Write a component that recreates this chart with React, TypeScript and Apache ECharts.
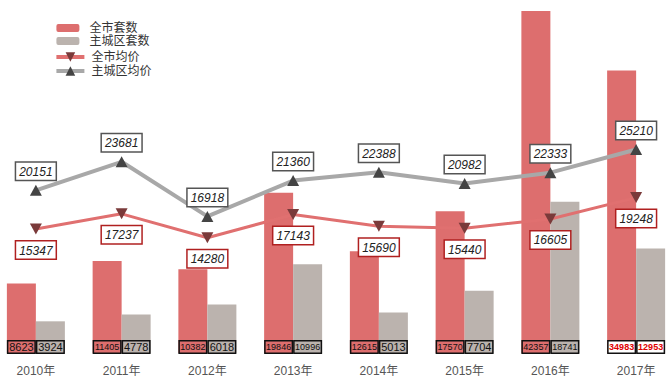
import React, { useEffect, useRef } from "react";
import * as echarts from "echarts";

const categories = ["2010年", "2011年", "2012年", "2013年", "2014年", "2015年", "2016年", "2017年"];
const cityCount = [8623, 11405, 10382, 19846, 12615, 17570, 42357, 34983];
const mainCount = [3924, 4778, 6018, 10996, 5013, 7704, 18741, 12953];
const cityPrice = [15347, 17237, 14280, 17143, 15690, 15440, 16605, 19248];
const mainPrice = [20151, 23681, 16918, 21360, 22388, 20982, 22333, 25210];
const highlightIndex = 7;

const FONT = '"Liberation Sans", Arial, "Noto Sans CJK SC", sans-serif';
const RED = "#dd6e6e";
const GRAY = "#bbb3ae";
const SHIFT = 7.4;
const INNER_W = 686.3;

function barData(values: number[], bg: string) {
  return values.map((v, i) => {
    const hi = i === highlightIndex;
    const digits = String(v).length;
    return {
      value: v,
      label: {
        fontSize: digits >= 5 ? 9 : 11,
        color: hi ? "#e00000" : "#111",
        backgroundColor: hi ? "#ffffff" : bg,
        fontWeight: hi ? "bold" : "normal",
      },
    };
  });
}

export default function App() {
  const ref = useRef<HTMLDivElement>(null);
  useEffect(() => {
    if (!ref.current) return;
    const chart = echarts.init(ref.current, undefined, { renderer: "svg" });
    const barLabel = {
      show: true,
      position: "insideBottom",
      distance: 6,
      fontFamily: FONT,
      borderColor: "#111",
      borderWidth: 1.5,
      width: 26,
      height: 11,
      lineHeight: 11,
      align: "center",
      verticalAlign: "middle",
      padding: [0, 0],
    };
    chart.setOption({
      animation: false,
      textStyle: { fontFamily: FONT },
      grid: { left: 0, right: 0, top: 11, bottom: 28 },
      legend: [
        {
          orient: "vertical",
          left: 56 + SHIFT,
          top: 22,
          padding: 0,
          itemWidth: 23,
          itemHeight: 8,
          itemGap: 1,
          textStyle: { fontSize: 12, color: "#333", fontFamily: FONT, padding: [0, 0, 0, 5] },
          data: ["全市套数", "主城区套数"],
        },
        {
          orient: "vertical",
          left: 54 + SHIFT,
          top: 51,
          padding: 0,
          itemWidth: 28,
          itemHeight: 12,
          itemGap: 2,
          textStyle: { fontSize: 12, color: "#333", fontFamily: FONT, padding: [0, 0, 0, 2] },
          data: [
            { name: "全市均价", lineStyle: { width: 4 } },
            { name: "主城区均价", lineStyle: { width: 4 } },
          ],
        },
      ],
      xAxis: {
        type: "category",
        data: categories,
        axisLine: { show: false },
        axisTick: { show: false },
        axisLabel: { color: "#555", fontSize: 12, margin: 12, fontFamily: FONT },
      },
      yAxis: {
        type: "value",
        min: 0,
        max: 42357,
        show: false,
        splitLine: { show: false },
      },
      series: [
        {
          name: "全市套数",
          type: "bar",
          barWidth: 29,
          barGap: "0%",
          itemStyle: { color: RED },
          label: barLabel,
          data: barData(cityCount, RED),
        },
        {
          name: "主城区套数",
          type: "bar",
          barWidth: 29,
          barGap: "0%",
          itemStyle: { color: GRAY },
          label: barLabel,
          data: barData(mainCount, GRAY),
        },
        {
          name: "全市均价",
          type: "line",
          symbol: "triangle",
          symbolRotate: 180,
          symbolSize: [12, 11],
          lineStyle: { color: "#e07070", width: 3 },
          itemStyle: { color: "#7a3a3a" },
          label: {
            show: true,
            position: "bottom",
            distance: 7,
            fontSize: 12,
            fontStyle: "italic",
            color: "#222",
            backgroundColor: "#fff",
            borderColor: "#b02020",
            borderWidth: 1.5,
            padding: [3, 3, 2, 3],
            fontFamily: FONT,
          },
          data: cityPrice,
          z: 5,
        },
        {
          name: "主城区均价",
          type: "line",
          symbol: "triangle",
          symbolSize: [12, 11],
          lineStyle: { color: "#a8a8a8", width: 4 },
          itemStyle: { color: "#444" },
          label: {
            show: true,
            position: "top",
            distance: 5,
            fontSize: 12,
            fontStyle: "italic",
            color: "#222",
            backgroundColor: "#fff",
            borderColor: "#555",
            borderWidth: 1.5,
            padding: [3, 3, 2, 3],
            fontFamily: FONT,
          },
          data: mainPrice,
          z: 5,
        },
      ],
    });
    return () => chart.dispose();
  }, []);
  return (
    <div style={{ position: "absolute", left: 0, top: 0, width: 670, height: 381, overflow: "hidden" }}>
      <div ref={ref} style={{ position: "absolute", left: -SHIFT, top: 0, width: INNER_W, height: 381 }} />
    </div>
  );
}
